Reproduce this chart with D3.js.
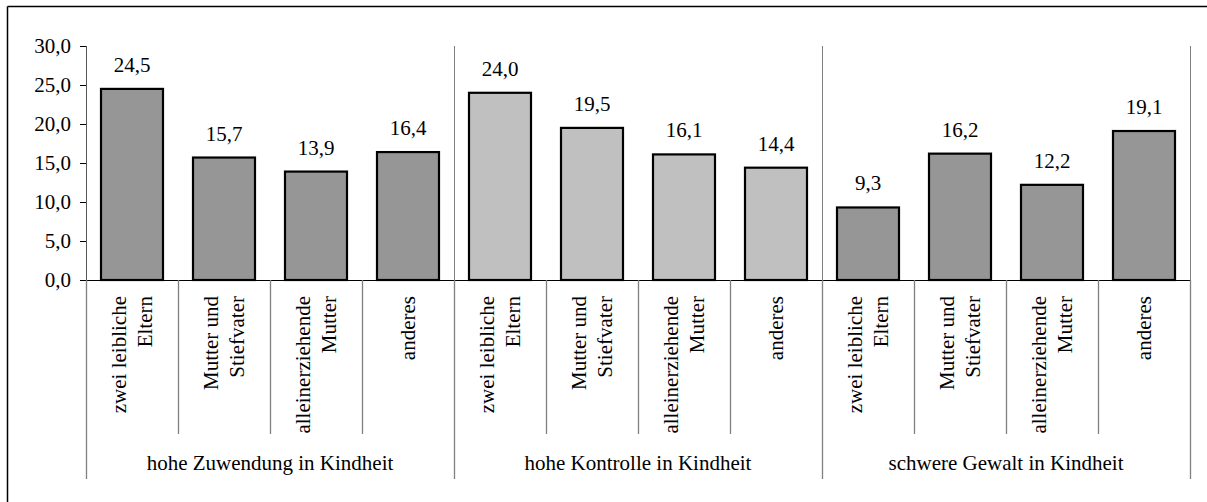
<!DOCTYPE html>
<html><head><meta charset="utf-8">
<script src="https://cdn.jsdelivr.net/npm/d3@7"></script>
<style>body{margin:0;background:#fff}svg{display:block}</style>
</head><body><svg id="c" width="1207" height="502"></svg>
<script>
const groups = ["hohe Zuwendung in Kindheit","hohe Kontrolle in Kindheit","schwere Gewalt in Kindheit"];
const categories = [["zwei leibliche","Eltern"],["Mutter und","Stiefvater"],["alleinerziehende","Mutter"],["anderes"]];
const valuesZuwendung = [24.5,15.7,13.9,16.4];
const valuesKontrolle = [24.0,19.5,16.1,14.4];
const valuesGewalt = [9.3,16.2,12.2,19.1];
const groupValues = [valuesZuwendung, valuesKontrolle, valuesGewalt];
const groupColors = ["#969696","#c0c0c0","#969696"];
const yTicks = [0,5,10,15,20,25,30];

(function(){
const FONT = "'Liberation Serif', Tinos, 'Times New Roman', Times, 'DejaVu Serif', 'Noto Serif', serif";
const svg = d3.select("#c");
const pLeft = 86, pRight = 1190, pTop = 46, pBase = 280;
const fmt = v => v.toFixed(1).replace(".", ",");

svg.append("line").attr("x1",7.5).attr("x2",1207).attr("y1",6.5).attr("y2",6.5).attr("stroke","#000").attr("stroke-width",1.5);
svg.append("line").attr("x1",7.5).attr("x2",7.5).attr("y1",6.5).attr("y2",502).attr("stroke","#000").attr("stroke-width",1.5);

const rows = [];
groupValues.forEach((vals,gi)=>vals.forEach((v,ci)=>rows.push({g:gi,c:ci,v:v,key:gi+"-"+ci})));

const x = d3.scaleBand().domain(rows.map(d=>d.key)).range([pLeft,pRight]).paddingInner(30/92).paddingOuter(15/92);
const xc = d3.scaleBand().domain(rows.map(d=>d.key)).range([pLeft,pRight]);
const y = d3.scaleLinear().domain([0,30]).range([pBase,pTop]);

const yAxis = svg.append("g").attr("transform",`translate(${pLeft},0)`)
  .call(d3.axisLeft(y).tickValues(yTicks).tickFormat(fmt).tickSize(6).tickPadding(9));
yAxis.attr("font-family",null);
yAxis.select(".domain").attr("stroke","#555").attr("d",`M0.5,${pTop}V${pBase}`);
yAxis.selectAll(".tick line").attr("stroke","#000");
yAxis.selectAll("text").attr("font-size",21).style("font-family",FONT).attr("fill","#000");

const gw = (pRight-pLeft)/groups.length;
groups.forEach((g,i)=>{
  const xs = pLeft + gw*(i+1);
  svg.append("line").attr("x1",xs+0.5).attr("x2",xs+0.5).attr("y1",pTop).attr("y2",pBase).attr("stroke","#808080").attr("stroke-width",1);
});

svg.selectAll("rect.bar").data(rows).join("rect").attr("class","bar")
  .attr("x",d=>x(d.key)).attr("width",x.bandwidth())
  .attr("y",d=>y(d.v)).attr("height",d=>pBase-y(d.v))
  .attr("fill",d=>groupColors[d.g]).attr("stroke","#000").attr("stroke-width",2.2);

svg.selectAll("text.val").data(rows).join("text").attr("class","val")
  .attr("x",d=>x(d.key)+x.bandwidth()/2).attr("y",d=>y(d.v)-17)
  .attr("text-anchor","middle").attr("font-size",21).style("font-family",FONT).text(d=>fmt(d.v));

svg.append("line").attr("x1",pLeft).attr("x2",pRight).attr("y1",pBase+0.5).attr("y2",pBase+0.5).attr("stroke","#000").attr("stroke-width",1.2);

rows.forEach(d=>{
  const xs = xc(d.key);
  const isGroup = d.c===0;
  svg.append("line").attr("x1",Math.round(xs)+0.5).attr("x2",Math.round(xs)+0.5).attr("y1",pBase).attr("y2",isGroup?479:434)
    .attr("stroke","#808080").attr("stroke-width",1.3);
});
svg.append("line").attr("x1",pRight+0.5).attr("x2",pRight+0.5).attr("y1",pBase).attr("y2",479).attr("stroke","#808080").attr("stroke-width",1.3);

rows.forEach(d=>{
  const cx = xc(d.key)+xc.bandwidth()/2;
  const lines = categories[d.c];
  const lh = 26;
  const t = svg.append("text").attr("font-size",21).attr("text-anchor","end").style("font-family",FONT)
    .attr("transform",`translate(${cx},296) rotate(-90)`);
  lines.forEach((l,i)=>{
    const off = (i-(lines.length-1)/2)*lh + 7;
    t.append("tspan").attr("x",0).attr("y",off).text(l);
  });
});

groups.forEach((g,i)=>{
  svg.append("text").attr("x",pLeft+gw*i+gw/2).attr("y",470).attr("text-anchor","middle").attr("font-size",21).style("font-family",FONT).text(g);
});
})();
</script></body></html>
